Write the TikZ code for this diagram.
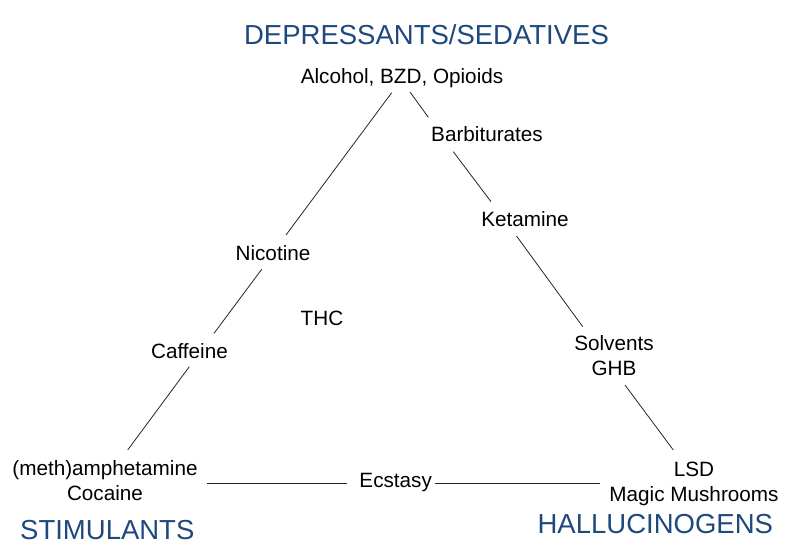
\documentclass[tikz,border=0pt]{standalone}
\usepackage{fontspec}
\setmainfont{Liberation Sans}
\definecolor{headblue}{RGB}{31,73,125}
\tikzset{
  drug/.style={font=\fontsize{20.7}{25}\selectfont, text=black, anchor=base, align=center, inner sep=0pt},
  head/.style={font=\fontsize{27.5}{32}\selectfont, text=headblue, anchor=base, inner sep=0pt},
  link/.style={draw=black!85, line width=0.8pt}
}
\begin{document}
\begin{tikzpicture}[x=1pt,y=-1pt]
\useasboundingbox[fill=white] (0,0) rectangle (796,544);
\node[head] (dep) at (426.5,44.3) {DEPRESSANTS/SEDATIVES};
\node[head] (stim) at (107.3,539.5) {STIMULANTS};
\node[head] (hal) at (655.3,533.3) {HALLUCINOGENS};
\node[drug] (alc) at (402,83.3) {Alcohol, BZD, Opioids};
\node[drug] (barb) at (487,141.7) {Barbiturates};
\node[drug] (ket) at (525,226.7) {Ketamine};
\node[drug] (solv) at (614,375.7) {Solvents\\GHB};
\node[drug] (lsd) at (694,501) {LSD\\Magic Mushrooms};
\node[drug] (ecs) at (395.7,487.5) {Ecstasy};
\node[drug] (meth) at (105,500.7) {(meth)amphetamine\\Cocaine};
\node[drug] (caf) at (189.5,358.3) {Caffeine};
\node[drug] (nic) at (273,260) {Nicotine};
\node[drug] (thc) at (322,325) {THC};
\draw[link] ([shift={(-10.3,9.4)}]alc.base) -- ([shift={(13,-25)}]nic.base);
\draw[link] ([shift={(8,8.7)}]alc.base) -- ([shift={(-58.7,-24.4)}]barb.base);
\draw[link] ([shift={(-33.7,10)}]barb.base) -- ([shift={(-34,-25)}]ket.base);
\draw[link] ([shift={(-8.5,9.3)}]ket.base) -- ([shift={(-31.3,-49)}]solv.base);
\draw[link] ([shift={(11,9.3)}]solv.base) -- ([shift={(-20.7,-51)}]lsd.base);
\draw[link] ([shift={(-11.3,9.3)}]nic.base) -- ([shift={(24.5,-25)}]caf.base);
\draw[link] ([shift={(-0.2,8.4)}]caf.base) -- ([shift={(22.7,-50.7)}]meth.base);
\draw[link] ([shift={(101.7,-17.4)}]meth.base) -- ([shift={(-49,-4.2)}]ecs.base);
\draw[link] ([shift={(39.3,-4.2)}]ecs.base) -- ([shift={(-94,-17.7)}]lsd.base);
\end{tikzpicture}
\end{document}
